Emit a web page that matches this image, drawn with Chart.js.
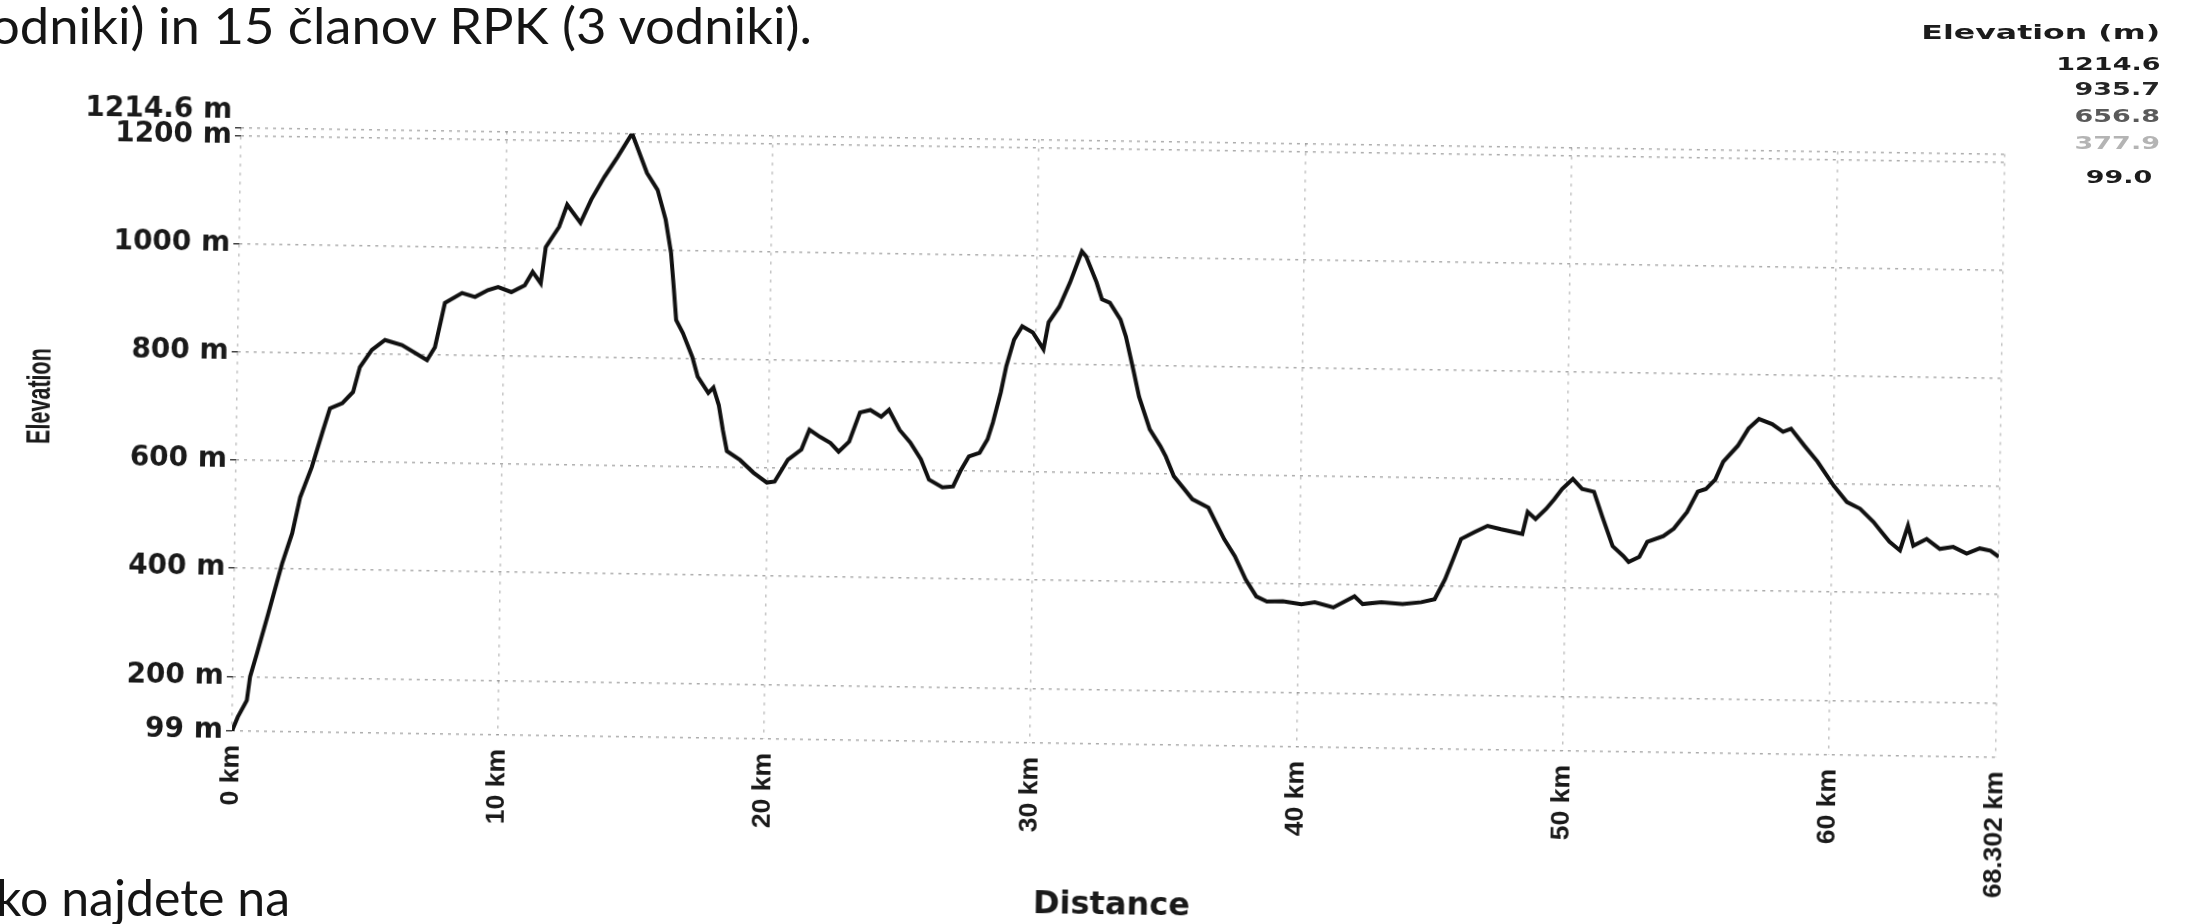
<!DOCTYPE html>
<html>
<head>
<meta charset="utf-8">
<title>Elevation profile</title>
<script src="https://cdn.jsdelivr.net/npm/chart.js@4.4.1/dist/chart.umd.min.js"></script>
<style>
  html, body { margin: 0; padding: 0; background: #fff; }
  body { width: 2189px; height: 924px; position: relative; overflow: hidden; }
  /* the scan is turned a little clockwise */
  #profile { position: absolute; left: 0; top: 0; transform: rotate(0.86deg); transform-origin: 232px 731px; }
  .doc { position: absolute; white-space: nowrap; font-family: Lato, "Open Sans", sans-serif;
         font-size: 50px; line-height: 50px; color: #151515; transform-origin: left center; }
  .leg { position: absolute; right: 29px; white-space: nowrap; font-family: "DejaVu Sans", sans-serif;
         font-weight: bold; transform: scaleX(1.5); transform-origin: right center; }
</style>
</head>
<body>
<canvas id="profile" width="2189" height="924"></canvas>
<div class="doc" id="topText" style="left:-10px; top:0px;">odniki) in 15 članov RPK (3 vodniki).</div>
<div class="doc" id="bottomText" style="left:-4px; top:872px;">ko najdete na</div>
<div id="legend"></div>
<script>
// route profile
const distanceKm = [0, 0.21, 0.54, 0.65, 0.90, 1.28, 1.79, 2.15, 2.43, 2.85, 3.25, 3.50, 3.96, 4.36, 4.60,
  5.04, 5.53, 6.17, 6.67, 7.12, 7.41, 7.65, 7.76, 8.40, 8.89, 9.37, 9.75, 10.25, 10.75, 11.04, 11.35, 11.52,
  12.01, 12.30, 12.81, 13.20, 13.68, 14.17, 14.70, 15.28, 15.69, 16.01, 16.23, 16.35, 16.46, 16.72, 17.09, 17.30,
  17.71, 17.90, 18.11, 18.28, 18.44, 18.94, 19.45, 19.96, 20.25, 20.74, 21.24, 21.53, 21.93, 22.33, 22.64, 23.03,
  23.42, 23.81, 24.22, 24.51, 24.92, 25.33, 25.74, 26.05, 26.56, 26.96, 27.25, 27.54, 27.94, 28.23, 28.42, 28.70,
  28.89, 29.17, 29.47, 29.87, 30.28, 30.46, 30.85, 31.24, 31.67, 31.83, 32.24, 32.45, 32.75, 33.16, 33.37, 33.69,
  33.90, 34.32, 34.73, 34.94, 35.25, 35.66, 35.96, 36.57, 36.82, 37.18, 37.59, 38.01, 38.42, 38.82, 39.42, 40.12,
  40.62, 41.32, 42.11, 42.42, 43.12, 43.92, 44.62, 45.12, 45.50, 45.79, 46.08, 46.58, 47.07, 47.58, 48.08, 48.38,
  48.57, 48.87, 49.26, 49.56, 49.85, 50.25, 50.60, 51.05, 51.37, 51.78, 52.19, 52.39, 52.79, 53.08, 53.68, 54.07,
  54.56, 54.95, 55.25, 55.60, 55.89, 56.43, 56.82, 57.21, 57.71, 58.12, 58.42, 58.93, 59.43, 60.05, 60.56, 61.06,
  61.57, 61.87, 62.18, 62.58, 62.87, 63.08, 63.58, 64.08, 64.58, 65.09, 65.58, 65.98, 66.3];
const elevationM = [99, 125, 156, 200, 244, 314, 410, 466, 533, 589, 657, 698, 708, 729, 775,
  807, 826, 817, 803, 790, 814, 870, 896, 915, 908, 921, 927, 918, 931, 956, 935, 1002,
  1040, 1081, 1048, 1091, 1133, 1171, 1214.6, 1142, 1111, 1056, 995, 932, 871, 847, 803, 767,
  737, 747, 715, 668, 630, 614, 591, 573, 575, 616, 635, 672, 659, 648, 632, 651,
  705, 710, 698, 711, 674, 651, 620, 583, 569, 571, 602, 627, 634, 659, 690, 746,
  794, 844, 869, 858, 827, 877, 906, 951, 1009, 1000, 952, 921, 915, 884, 853, 787,
  742, 682, 651, 632, 596, 572, 554, 539, 515, 481, 450, 407, 376, 367, 368, 363,
  367, 358, 379, 365, 369, 366, 370, 376, 413, 450, 488, 501, 513, 507, 502, 499,
  540, 527, 546, 564, 583, 602, 584, 579, 534, 479, 461, 450, 460, 488, 499, 513,
  544, 582, 587, 605, 638, 668, 700, 718, 709, 695, 701, 670, 641, 597, 567, 555,
  531, 513, 495, 479, 525, 488, 501, 483, 487, 475, 485, 481, 470];

const xTickValues = [0, 10, 20, 30, 40, 50, 60, 66.3];
const xTickLabels = ['0 km', '10 km', '20 km', '30 km', '40 km', '50 km', '60 km', '68.302 km'];
const yTickValues = [99, 200, 400, 600, 800, 1000, 1200, 1214.6];
const yTickLabels = ['99 m', '200 m', '400 m', '600 m', '800 m', '1000 m', '1200 m', '1214.6 m'];

const legendTitle = 'Elevation (m)';
const legendValues = ['1214.6', '935.7', '656.8', '377.9', '99.0'];
const legendColors = ['#1c1c1c', '#262626', '#5a5a5a', '#b4b4b4', '#1c1c1c'];
const legendTops = [53, 78, 105, 132, 166];

// squeeze the document lines to the width they take on the scan
function fitWidth(el, width) {
  const w = el.getBoundingClientRect().width;
  el.style.transform = 'scaleX(' + (width / w) + ')';
}
fitWidth(document.getElementById('topText'), 822);
fitWidth(document.getElementById('bottomText'), 294);

const legend = document.getElementById('legend');
const head = document.createElement('div');
head.className = 'leg';
head.style.cssText = 'top:20px; font-size:20px; line-height:24px; color:#1c1c1c; transform:scaleX(1.58);';
head.textContent = legendTitle;
legend.appendChild(head);
legendValues.forEach((v, i) => {
  const d = document.createElement('div');
  d.className = 'leg';
  d.style.cssText = 'top:' + legendTops[i] + 'px; font-size:18px; line-height:22px; color:' + legendColors[i] + ';'
    + (i === legendValues.length - 1 ? ' right:37px;' : '');
  d.textContent = v;
  legend.appendChild(d);
});

const gridColor = 'rgba(70, 70, 70, 0.45)';
const labelColor = '#1a1a1a';

// the y title sits higher than chart.js would centre it, and is narrow
const elevationTitle = {
  id: 'elevationTitle',
  afterDraw(chart) {
    const ctx = chart.ctx;
    ctx.save();
    ctx.translate(36, 399);
    ctx.rotate(-Math.PI / 2);
    ctx.font = 'bold 33px "Liberation Sans", Arial, sans-serif';
    const w = ctx.measureText('Elevation').width;
    ctx.scale(96 / w, 1);
    ctx.fillStyle = labelColor;
    ctx.textAlign = 'center';
    ctx.textBaseline = 'middle';
    ctx.fillText('Elevation', 0, 0);
    ctx.restore();
  }
};

new Chart(document.getElementById('profile'), {
  type: 'line',
  data: {
    datasets: [{
      label: 'Elevation',
      data: distanceKm.map((d, i) => ({ x: d, y: elevationM[i] })),
      borderColor: '#111',
      borderWidth: 4,
      pointRadius: 0,
      tension: 0,
      fill: false
    }]
  },
  options: {
    responsive: false,
    animation: false,
    events: [],
    layout: { padding: { top: 127.5, right: 193, bottom: 0, left: 0 } },
    plugins: {
      legend: { display: false },
      tooltip: { enabled: false }
    },
    scales: {
      x: {
        type: 'linear',
        min: 0,
        max: 66.3,
        afterFit: (s) => { s.height = 193; },
        afterBuildTicks: (s) => { s.ticks = xTickValues.map(v => ({ value: v })); },
        ticks: {
          callback: (v, i) => xTickLabels[i],
          autoSkip: false,
          minRotation: 90,
          maxRotation: 90,
          padding: 14,
          color: labelColor,
          font: { family: '"Liberation Sans", Arial, sans-serif', size: 26.5, weight: 'bold' }
        },
        grid: { color: 'rgba(70, 70, 70, 0.32)', lineWidth: 1.5, drawTicks: false },
        border: { display: false, dash: [3, 6] },
        title: {
          display: true,
          text: 'Distance',
          color: labelColor,
          padding: { top: 0, bottom: 12 },
          font: { family: '"DejaVu Sans", sans-serif', size: 32, weight: 'bold' }
        }
      },
      y: {
        min: 99,
        max: 1214.6,
        afterFit: (s) => { s.width = 232; },
        afterBuildTicks: (s) => { s.ticks = yTickValues.map(v => ({ value: v })); },
        ticks: {
          // the top label is pushed up so it clears "1200 m"
          callback: (v, i) => (i === yTickLabels.length - 1 ? [yTickLabels[i], ''] : yTickLabels[i]),
          autoSkip: false,
          padding: 3,
          color: labelColor,
          font: { family: '"DejaVu Sans", sans-serif', size: 28, weight: 'bold' }
        },
        grid: { color: gridColor, lineWidth: 1.5, tickLength: 6, tickColor: '#444', tickBorderDash: [] },
        border: { display: false, dash: [3, 5] }
      }
    }
  },
  plugins: [elevationTitle]
});
</script>
</body>
</html>
